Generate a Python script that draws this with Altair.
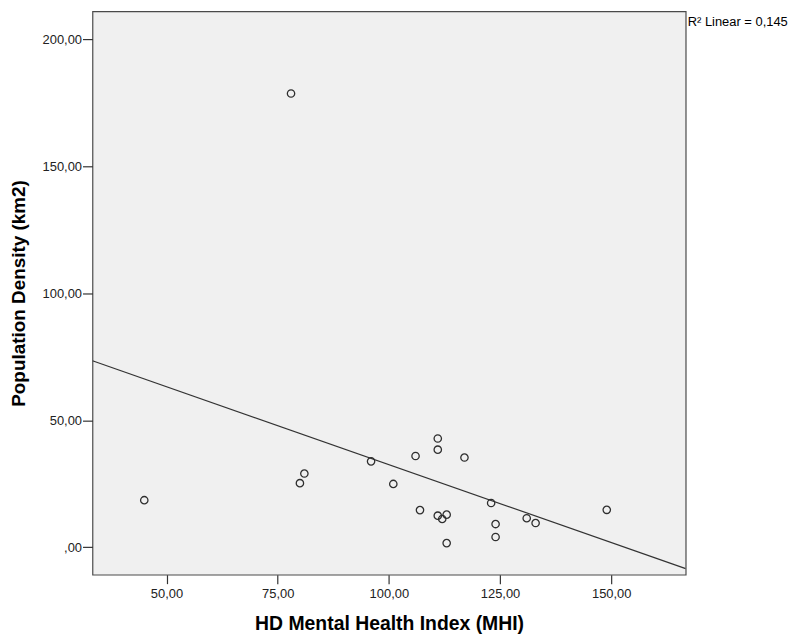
import altair as alt
import pandas as pd

# Values
mhi = [45, 78, 81, 80, 96, 101, 106, 111, 111, 117, 107, 111, 112, 113, 113, 123, 124, 124, 131, 133, 149]
density = [18.5, 178.7, 29.0, 25.2, 33.8, 24.9, 35.9, 42.8, 38.4, 35.3, 14.6, 12.4, 11.1, 12.8, 1.6,
           17.4, 9.1, 4.0, 11.4, 9.5, 14.7]
x_ticks = [50, 75, 100, 125, 150]
y_ticks = [0, 50, 100, 150, 200]
x_domain = [33.35, 166.75]
y_domain = [-10.85, 211.1]

df = pd.DataFrame({"mhi": mhi, "density": density})

FONT = "Liberation Sans"
W, H = 597, 567
label_expr = "datum.value == 0 ? ',00' : replace(format(datum.value, '.2f'), '.', ',')"

base = alt.Chart(df)

points = base.mark_point(
    shape="circle", filled=False, color="#2e2e2e", strokeWidth=1.3, size=55, opacity=1
).encode(
    x=alt.X("mhi:Q",
            scale=alt.Scale(domain=x_domain, nice=False, zero=False),
            axis=alt.Axis(values=x_ticks, labelExpr=label_expr, title="HD Mental Health Index (MHI)",
                          grid=False, domain=False, tickSize=9, labelPadding=14,
                          labelBaseline="alphabetic", labelFontSize=13,
                          titleFontSize=19.5, titleFontWeight="bold",
                          titleX=W / 2, titleY=55, titleBaseline="alphabetic")),
    y=alt.Y("density:Q",
            scale=alt.Scale(domain=y_domain, nice=False, zero=False),
            axis=alt.Axis(values=y_ticks, labelExpr=label_expr, title="Population Density (km2)",
                          grid=False, domain=False, tickSize=10, labelPadding=1,
                          labelBaseline="middle", labelFontSize=13,
                          titleFontSize=19, titleFontWeight="bold", titleAngle=-90,
                          titleX=-68, titleY=H / 2, titleBaseline="alphabetic")),
)

line = base.transform_regression(
    "mhi", "density", extent=x_domain
).mark_line(color="#333333", strokeWidth=1.2, clip=True).encode(
    x="mhi:Q", y="density:Q"
)

r2 = base.transform_regression(
    "mhi", "density", params=True
).transform_calculate(
    label="'R² Linear = ' + replace(format(datum.rSquared, '.3f'), '.', ',')"
).mark_text(
    align="left", baseline="alphabetic", fontSize=13, font=FONT, color="#000000"
).encode(
    x=alt.value(W + 2), y=alt.value(14.5), text="label:N"
)

chart = alt.layer(line, points, r2).properties(
    width=W, height=H,
    padding={"left": 85, "top": 1.3, "right": 110, "bottom": 60},
    autosize=alt.AutoSizeParams(type="none"),
).configure_view(
    fill="#f0f0f0", stroke="#4a4a4a", strokeWidth=1.2
).configure_axis(
    labelFont=FONT, titleFont=FONT, labelColor="#222222", titleColor="#000000",
    tickColor="#333333", tickWidth=1.2
)

chart.save("out.html", embed_options={"renderer": "svg", "actions": False})
